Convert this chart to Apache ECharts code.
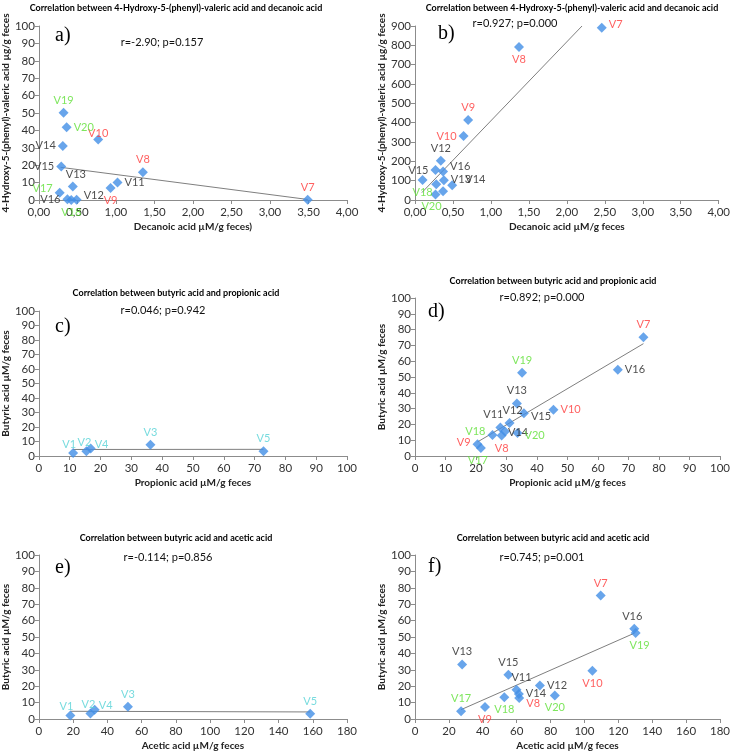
<!DOCTYPE html>
<html>
<head>
<meta charset="utf-8">
<script src="https://cdn.jsdelivr.net/npm/echarts@6/dist/echarts.min.js"></script>
<style>
  html, body { margin: 0; padding: 0; background: #fff; }
  #main { width: 733px; height: 753px; }
</style>
</head>
<body>
<div id="main"></div>
<script>
// panel a: 4-Hydroxy-5-(phenyl)-valeric acid vs decanoic acid (V7..V20)
var namesA = ['V7','V8','V9','V10','V11','V12','V13','V14','V15','V16','V17','V18','V19','V20'];
var xA = [3.49, 1.35, 0.93, 0.77, 1.02, 0.49, 0.44, 0.31, 0.29, 0.37, 0.27, 0.42, 0.32, 0.36];
var yA = [0.2, 15.9, 6.9, 34.7, 10.0, 0.2, 7.7, 31.1, 19.2, 0.5, 4.2, 0.0, 50.1, 41.8];
var trendA = [[0.28, 18.8], [3.49, 0.3]];

// panel b: same pair, second group
var namesB = ['V7','V8','V9','V10','V11','V12','V13','V14','V15','V16','V17','V18','V20'];
var xB = [2.46, 1.37, 0.70, 0.64, 0.28, 0.34, 0.38, 0.49, 0.27, 0.37, 0.37, 0.10, 0.27];
var yB = [891, 791, 414, 331, 81, 203, 102, 76, 155, 147, 45, 103, 29];
var trendB = [[0.09, 38], [2.2, 900]];

// panel c: butyric vs propionic (V1..V5)
var namesC = ['V1','V2','V3','V4','V5'];
var xC = [11.1, 15.4, 36.2, 16.8, 72.9];
var yC = [2.1, 3.2, 7.8, 5.1, 3.2];
var trendC = [[11.1, 4.5], [72.9, 4.6]];

// panel d: butyric vs propionic (V7..V20)
var namesD = ['V7','V8','V9','V10','V11','V12','V13','V14','V15','V16','V17','V18','V19','V20'];
var xD = [74.9, 28.4, 20.5, 45.4, 28.0, 31.0, 33.4, 29.5, 35.7, 66.5, 21.6, 25.4, 35.1, 33.6];
var yD = [75.1, 12.9, 7.4, 29.3, 18.1, 20.9, 33.3, 15.5, 27.0, 54.6, 5.1, 13.3, 52.7, 14.6];
var trendD = [[20.5, 8.9], [74.9, 71.1]];

// panel e: butyric vs acetic (V1..V5)
var namesE = ['V1','V2','V3','V4','V5'];
var xE = [18.4, 30.1, 52.0, 32.6, 158.5];
var yE = [2.2, 3.4, 7.5, 5.7, 3.2];
var trendE = [[18.4, 4.7], [158.5, 4.3]];

// panel f: butyric vs acetic (V7..V20)
var namesF = ['V7','V8','V9','V10','V11','V12','V13','V14','V15','V16','V17','V18','V19','V20'];
var xF = [109.6, 61.5, 41.3, 104.7, 59.9, 73.7, 27.8, 61.3, 55.1, 129.4, 27.2, 52.7, 130.2, 82.5];
var yF = [75.3, 12.8, 7.3, 29.4, 17.8, 20.5, 33.3, 15.2, 27.0, 55.0, 4.7, 13.2, 52.5, 14.4];
var trendF = [[27.2, 5.7], [129.4, 52.3]];

var titleHV = 'Correlation between 4-Hydroxy-5-(phenyl)-valeric acid and decanoic acid';
var titleBP = 'Correlation between butyric acid and propionic acid';
var titleBA = 'Correlation between butyric acid and acetic acid';

// label placement (style only)
var labA = {V7:'top',V8:'top',V9:'bottom',V10:'top',V11:'right',V12:'right',V13:'top',V14:'left',V15:'left',V16:'left',V17:'left',V18:'bottom',V19:'top',V20:'right'};
var offA = {V10:[0,6],V12:[0,-4],V17:[0,-4],V13:[3,0]};
var labB = {V7:'right',V8:'bottom',V9:'top',V10:'left',V11:'none',V12:'top',V13:'right',V14:'right',V15:'left',V16:'right',V17:'none',V18:'bottom',V20:'bottom'};
var offB = {V7:[0,-3],V16:[0,-5],V14:[6,-6],V13:[0,-1],V20:[-4,0]};
var labC = {V1:'top',V2:'top',V3:'top',V4:'right',V5:'top'};
var offC = {V1:[-4,4],V2:[-2,4],V4:[-3,-4]};
var labD = {V7:'top',V8:'bottom',V9:'left',V10:'right',V11:'top',V12:'top',V13:'top',V14:'right',V15:'right',V16:'right',V17:'bottom',V18:'left',V19:'top',V20:'right'};
var offD = {V11:[-7,0],V12:[3,0],V15:[0,3],V18:[0,-4],V14:[-4,1],V20:[0,3],V9:[0,-2],V17:[-3,0]};
var labE = labC;
var offE = offC;
var labF = {V7:'top',V8:'right',V9:'bottom',V10:'bottom',V11:'top',V12:'right',V13:'top',V14:'right',V15:'top',V16:'top',V17:'top',V18:'bottom',V19:'bottom',V20:'bottom'};
var offF = {V8:[0,5],V16:[-2,0],V19:[4,0],V11:[5,0],V14:[0,-1]};

var FONT = 'Lato, "Liberation Sans", sans-serif';
var AXIS_COLOR = '#8c8c8c';
var BLUE = '#428ee6';

function labelColor(n) {
  var k = parseInt(n.slice(1));
  if (k <= 5) return '#55d2d6';
  if (k <= 10) return '#ff3838';
  if (k <= 16) return '#222';
  return '#5ee034';
}

function buildPoints(names, xs, ys, pos, offs) {
  return names.map(function (n, i) {
    var p = pos[n] || 'top';
    return {
      name: n,
      value: [xs[i], ys[i]],
      label: {
        show: p !== 'none',
        position: p === 'none' ? 'top' : p,
        distance: 2,
        offset: offs[n] || [0, 0],
        color: labelColor(n)
      }
    };
  });
}

var grids = [], xAxes = [], yAxes = [], series = [], graphics = [];

function comma(v) { return v.toFixed(2).replace('.', ','); }

function addPanel(p) {
  var gi = grids.length;
  grids.push({ left: p.left, top: p.top, width: p.width, height: p.height });
  xAxes.push({
    gridIndex: gi, type: 'value', min: p.xMin, max: p.xMax, interval: p.xStep,
    name: p.xName, nameLocation: 'middle', nameGap: 22,
    nameTextStyle: { fontFamily: FONT, fontWeight: 'bold', fontSize: 10, color: '#222' },
    axisLine: { show: true, onZero: false, lineStyle: { color: AXIS_COLOR } },
    axisTick: { show: true, length: 4, lineStyle: { color: AXIS_COLOR } },
    splitLine: { show: false },
    axisLabel: { fontFamily: FONT, fontSize: 11.5, color: '#333', margin: 6,
      formatter: p.xComma ? comma : null, showMinLabel: true, showMaxLabel: true }
  });
  yAxes.push({
    gridIndex: gi, type: 'value', min: 0, max: p.yMax, interval: p.yStep,
    name: p.yName, nameLocation: 'middle', nameGap: 25, nameRotate: 90,
    nameTextStyle: { fontFamily: FONT, fontWeight: 'bold', fontSize: 10, color: '#222' },
    axisLine: { show: true, lineStyle: { color: AXIS_COLOR } },
    axisTick: { show: true, length: 4, lineStyle: { color: AXIS_COLOR } },
    splitLine: { show: false },
    axisLabel: { fontFamily: FONT, fontSize: 11.5, color: '#333', margin: 4 }
  });
  series.push({
    type: 'line', xAxisIndex: gi, yAxisIndex: gi, data: p.trend,
    symbol: 'none', silent: true, clip: true,
    lineStyle: { color: '#7f7f7f', width: 1 }
  });
  series.push({
    type: 'scatter', xAxisIndex: gi, yAxisIndex: gi,
    symbol: 'diamond', symbolSize: 10,
    itemStyle: { color: BLUE },
    data: buildPoints(p.names, p.xs, p.ys, p.lab, p.off),
    label: { formatter: '{b}', fontFamily: FONT, fontSize: 11 },
    z: 3
  });
  graphics.push({ type: 'text', x: p.titleX, y: p.titleY,
    style: { text: p.title, font: 'bold 9px ' + FONT, fill: '#000', align: 'center', verticalAlign: 'middle' } });
  graphics.push({ type: 'text', x: p.rX, y: p.rY,
    style: { text: p.r, font: '11px ' + FONT, fill: '#111', align: 'center', verticalAlign: 'middle' } });
  graphics.push({ type: 'text', x: p.letX, y: p.letY,
    style: { text: p.letter, font: '20px "Liberation Serif", "DejaVu Serif", serif', fill: '#000', align: 'left', verticalAlign: 'middle' } });
}

var yHV = '4-Hydroxy-5-(phenyl)-valeric acid µg/g feces';
var yBut = 'Butyric acid µM/g feces';

addPanel({ left: 38, top: 26, width: 309, height: 174, xMin: 0, xMax: 4, xStep: 0.5, xComma: true, yMax: 100, yStep: 10,
  xName: 'Decanoic acid µM/g feces)', yName: yHV, names: namesA, xs: xA, ys: yA, lab: labA, off: offA, trend: trendA,
  title: titleHV, titleX: 176, titleY: 8, r: 'r=-2.90; p=0.157', rX: 162, rY: 42, letter: 'a)', letX: 55, letY: 36 });
addPanel({ left: 415, top: 26, width: 307, height: 174, xMin: 0, xMax: 4, xStep: 0.5, xComma: true, yMax: 900, yStep: 100,
  xName: 'Decanoic acid µM/g feces', yName: yHV, names: namesB, xs: xB, ys: yB, lab: labB, off: offB, trend: trendB,
  title: titleHV, titleX: 572, titleY: 8, r: 'r=0.927; p=0.000', rX: 515, rY: 23, letter: 'b)', letX: 438, letY: 34 });
addPanel({ left: 38, top: 311, width: 309, height: 145, xMin: 0, xMax: 100, xStep: 10, yMax: 100, yStep: 10,
  xName: 'Propionic acid µM/g feces', yName: yBut, names: namesC, xs: xC, ys: yC, lab: labC, off: offC, trend: trendC,
  title: titleBP, titleX: 176, titleY: 293, r: 'r=0.046; p=0.942', rX: 163, rY: 310, letter: 'c)', letX: 55, letY: 327 });
addPanel({ left: 415, top: 298, width: 308, height: 158, xMin: 0, xMax: 100, xStep: 10, yMax: 100, yStep: 10,
  xName: 'Propionic acid µM/g feces', yName: yBut, names: namesD, xs: xD, ys: yD, lab: labD, off: offD, trend: trendD,
  title: titleBP, titleX: 553, titleY: 281, r: 'r=0.892; p=0.000', rX: 542, rY: 297, letter: 'd)', letX: 428, letY: 312 });
addPanel({ left: 37, top: 555, width: 310, height: 164, xMin: 0, xMax: 180, xStep: 20, yMax: 100, yStep: 10,
  xName: 'Acetic acid µM/g feces', yName: yBut, names: namesE, xs: xE, ys: yE, lab: labE, off: offE, trend: trendE,
  title: titleBA, titleX: 176, titleY: 538, r: 'r=-0.114; p=0.856', rX: 168, rY: 557, letter: 'e)', letX: 55, letY: 568 });
addPanel({ left: 415, top: 555, width: 308, height: 164, xMin: 0, xMax: 180, xStep: 20, yMax: 100, yStep: 10,
  xName: 'Acetic acid µM/g feces', yName: yBut, names: namesF, xs: xF, ys: yF, lab: labF, off: offF, trend: trendF,
  title: titleBA, titleX: 553, titleY: 538, r: 'r=0.745; p=0.001', rX: 542, rY: 557, letter: 'f)', letX: 428, letY: 567 });

var chart = echarts.init(document.getElementById('main'), null, { renderer: 'canvas' });
chart.setOption({
  animation: false,
  backgroundColor: '#fff',
  grid: grids,
  xAxis: xAxes,
  yAxis: yAxes,
  series: series,
  graphic: graphics
});
</script>
</body>
</html>
